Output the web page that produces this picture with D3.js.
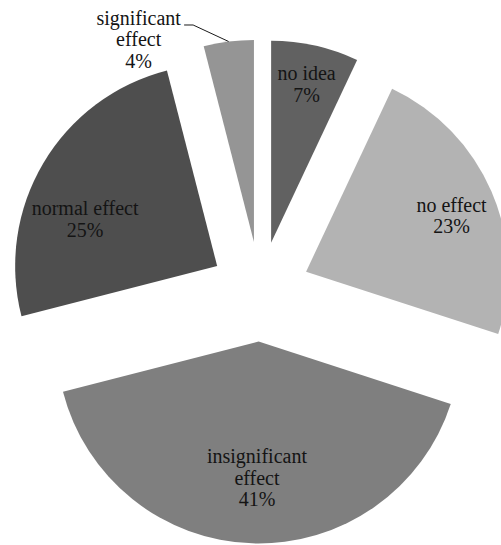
<!DOCTYPE html>
<html>
<head>
<meta charset="utf-8">
<script src="https://cdn.jsdelivr.net/npm/d3@7"></script>
<style>
  html, body { margin: 0; padding: 0; background: #ffffff; }
  svg { display: block; }
</style>
</head>
<body>
<svg id="chart" width="501" height="545"></svg>
<script>
// Survey answers, in clockwise order from 12 o'clock
const categories = ["no idea", "no effect", "insignificant effect", "normal effect", "significant effect"];
const values = [7, 23, 41, 25, 4];
const labelLines = [["no idea"], ["no effect"], ["insignificant", "effect"], ["normal effect"], ["significant", "effect"]];

// Styling of each slice
const fills = ["#616161", "#b3b3b3", "#7f7f7f", "#4e4e4e", "#959595"];
const labelDepth = [0.805, 0.772, 0.675, 0.694, null]; // null: label sits outside with a leader line
const labelTurn = [0, 2.3, -1.1, -11, 0];             // degrees the label is turned off the slice bisector

const width = 501, height = 545;
const cx = 260.2, cy = 291.5;   // pie centre
const radius = 202;
const explode = 50;             // distance each slice is pulled out
const fontSize = 20, lineHeight = 21.5;

const svg = d3.select("#chart");

const pie = d3.pie().sort(null).value(d => d.value);
const arc = d3.arc().innerRadius(0).outerRadius(radius);

const data = categories.map((c, i) => ({ name: c, value: values[i], i }));
const arcs = pie(data);

const total = d3.sum(values);
const pct = v => Math.round(v / total * 100) + "%";

const dir = a => [Math.sin(a), -Math.cos(a)];
const rad = deg => deg * Math.PI / 180;

const g = svg.append("g").attr("transform", `translate(${cx},${cy})`);

const slices = g.selectAll("g.slice")
  .data(arcs)
  .join("g")
  .attr("class", "slice")
  .attr("transform", d => {
    const mid = (d.startAngle + d.endAngle) / 2;
    const [ux, uy] = dir(mid);
    return `translate(${ux * explode},${uy * explode})`;
  });

slices.append("path")
  .attr("d", arc)
  .attr("fill", d => fills[d.data.i]);

function drawLabel(sel, x, y, lines) {
  const t = sel.append("text")
    .attr("x", x)
    .attr("text-anchor", "middle")
    .attr("font-family", "'Liberation Serif', 'Times New Roman', serif")
    .attr("font-size", fontSize)
    .attr("fill", "#141414");
  const n = lines.length;
  lines.forEach((ln, k) => {
    t.append("tspan")
      .attr("x", x)
      .attr("y", y - (n - 1) / 2 * lineHeight + k * lineHeight + 0.34 * fontSize)
      .text(ln);
  });
}

slices.each(function(d) {
  const sel = d3.select(this);
  const i = d.data.i;
  const mid = (d.startAngle + d.endAngle) / 2;
  const lines = labelLines[i].concat([pct(d.data.value)]);
  if (labelDepth[i] !== null) {
    const [lx, ly] = dir(mid + rad(labelTurn[i]));
    const r = radius * labelDepth[i];
    drawLabel(sel, lx * r, ly * r, lines);
  } else {
    // outside label joined to the arc by a bent leader line
    const [ux, uy] = dir(mid);
    const ax = ux * radius, ay = uy * radius;
    const ex = ax - 35.5, ey = ay - 16.5;
    const lx = ex - 9;
    sel.append("polyline")
      .attr("points", [[ax, ay], [ex, ey], [lx, ey]].map(p => p.join(",")).join(" "))
      .attr("fill", "none")
      .attr("stroke", "#1a1a1a")
      .attr("stroke-width", 1);
    drawLabel(sel, ax - 90, ay - 1.8, lines);
  }
});
</script>
</body>
</html>
